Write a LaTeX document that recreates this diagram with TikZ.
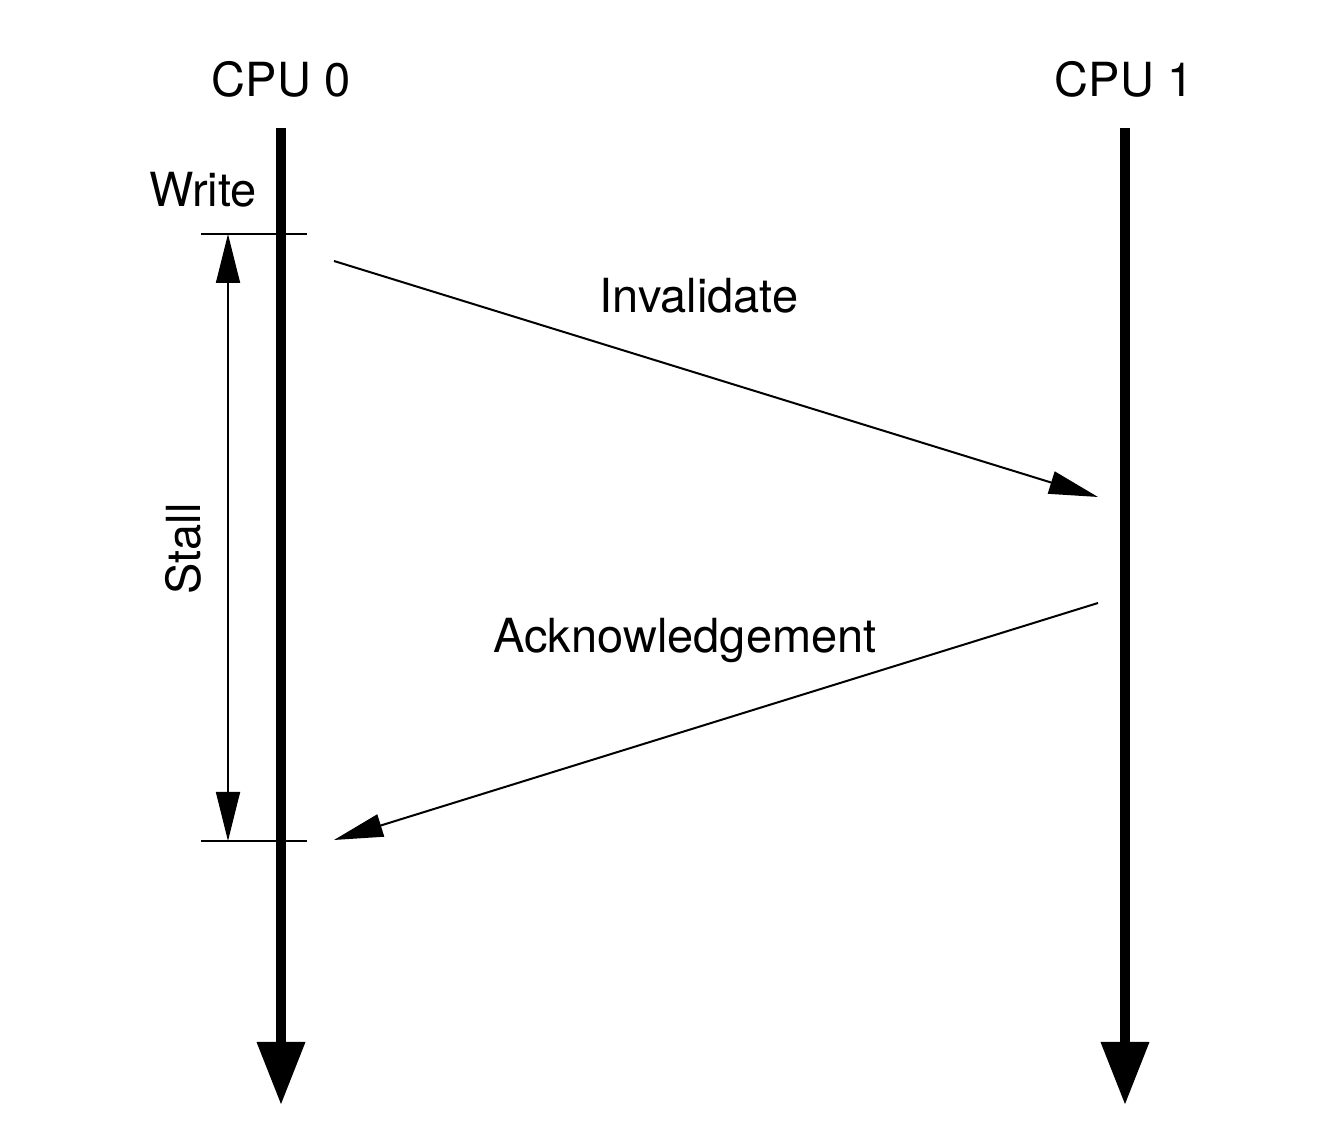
\documentclass[tikz,border=0pt]{standalone}
\usepackage{fontspec}
\setmainfont{TeX Gyre Heros}
\usetikzlibrary{arrows.meta}

\tikzset{
  cpuline/.style={line width=5pt, -{Triangle[length=31.5pt,width=23pt]}},
  msgarrow/.style={line width=1pt, -{Triangle[length=24.5pt,width=11.5pt]}},
  stallarrow/.style={line width=0.9pt, {Triangle[length=24.5pt,width=12pt]}-{Triangle[length=24.5pt,width=12pt]}},
  tickline/.style={line width=0.75pt},
  lbl/.style={inner sep=0pt, anchor=base, font=\fontsize{23.5}{28}\selectfont},
}

\begin{document}
\begin{tikzpicture}[x=0.5pt,y=-0.5pt]
\useasboundingbox (0,0) rectangle (1330,1138);

% processor time lines
\node[lbl] (cpu0) at (281,97) {CPU 0};
    \node[lbl] (cpu1) at (1124,97) {CPU 1};
    \coordinate (top0) at (281,128);
    \coordinate (bot0) at (281,1105);
    \coordinate (top1) at (1125,128);
    \coordinate (bot1) at (1125,1105);
    \draw[cpuline] (top0) -- (bot0);
    \draw[cpuline] (top1) -- (bot1);

% write and stall interval
\node[lbl] (write) at (203,207) {Write};
    \coordinate (wl) at (201,234);
    \coordinate (wr) at (307,234);
    \coordinate (dl) at (201,841);
    \coordinate (dr) at (307,841);
    \draw[tickline] (wl) -- (wr);
    \draw[tickline] (dl) -- (dr);
    \coordinate (sa) at (228,234);
    \coordinate (sb) at (228,841);
    \draw[stallarrow] (sa) -- (sb);
    \node[lbl, rotate=90] (stall) at (200,549) {Stall};

% messages
\coordinate (inv0) at (334,261);
    \coordinate (inv1) at (1098,497);
    \coordinate (ack1) at (1098,603);
    \coordinate (ack0) at (334,840);
    \draw[msgarrow] (inv0) -- (inv1);
    \draw[msgarrow] (ack1) -- (ack0);
    \node[lbl] (invl) at (699,313) {Invalidate};
    \node[lbl] (ackl) at (685,653) {Acknowledgement};
\end{tikzpicture}
\end{document}
